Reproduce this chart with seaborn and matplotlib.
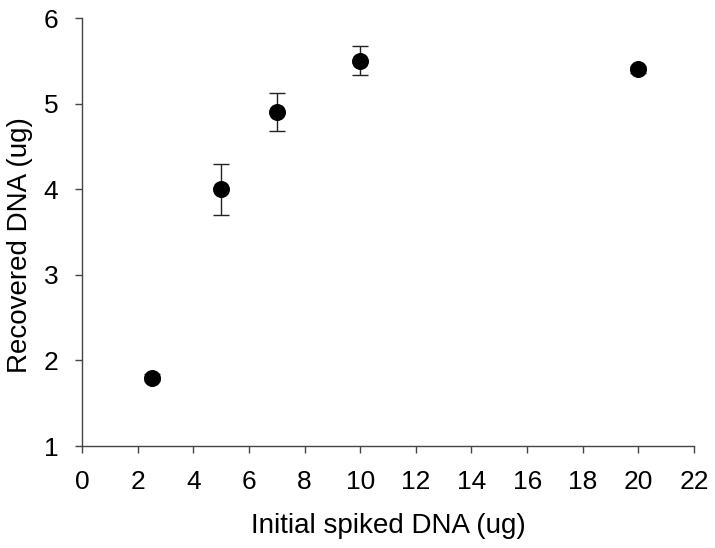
import matplotlib
matplotlib.use("Agg")
import matplotlib.pyplot as plt
import seaborn as sns
import pandas as pd

spiked = [2.5, 5, 7, 10, 20]
recovered = [1.8, 4.0, 4.9, 5.5, 5.4]
errors = [0.04, 0.30, 0.22, 0.17, 0.04]
x_ticks = list(range(0, 23, 2))
y_ticks = [1, 2, 3, 4, 5, 6]

sns.set_theme(style="ticks")
plt.rcParams['font.family'] = ['Liberation Sans', 'DejaVu Sans']

df = pd.DataFrame({"spiked": spiked, "recovered": recovered, "err": errors})

fig = plt.figure(figsize=(7.15, 5.48), dpi=100)
ax = fig.add_axes([0.1147, 0.186, 0.856, 0.781])

ax.errorbar(df["spiked"], df["recovered"], yerr=df["err"], fmt="none",
            ecolor="#222222", elinewidth=1.0, capsize=6, capthick=1.0, zorder=2)
sns.scatterplot(data=df, x="spiked", y="recovered", ax=ax, color="black",
                s=150, edgecolor="black", linewidth=0, zorder=3)

ax.set_xlim(0, 22)
ax.set_ylim(1, 6)
ax.set_xticks(x_ticks)
ax.set_yticks(y_ticks)
ax.tick_params(axis="both", labelsize=19, length=5, width=1, color="#444444",
               labelcolor="black")
ax.tick_params(axis="x", pad=12)
ax.tick_params(axis="y", pad=12)
ax.set_xlabel("Initial spiked DNA (ug)", fontsize=20, labelpad=14, color="black")
ax.set_ylabel("Recovered DNA (ug)", fontsize=20, color="black")
ax.yaxis.set_label_coords(-0.08, 0.47)
for s in ["top", "right"]:
    ax.spines[s].set_visible(False)
for s in ["left", "bottom"]:
    ax.spines[s].set_color("#444444")
    ax.spines[s].set_linewidth(1)

fig.savefig("out.png", dpi=100)
